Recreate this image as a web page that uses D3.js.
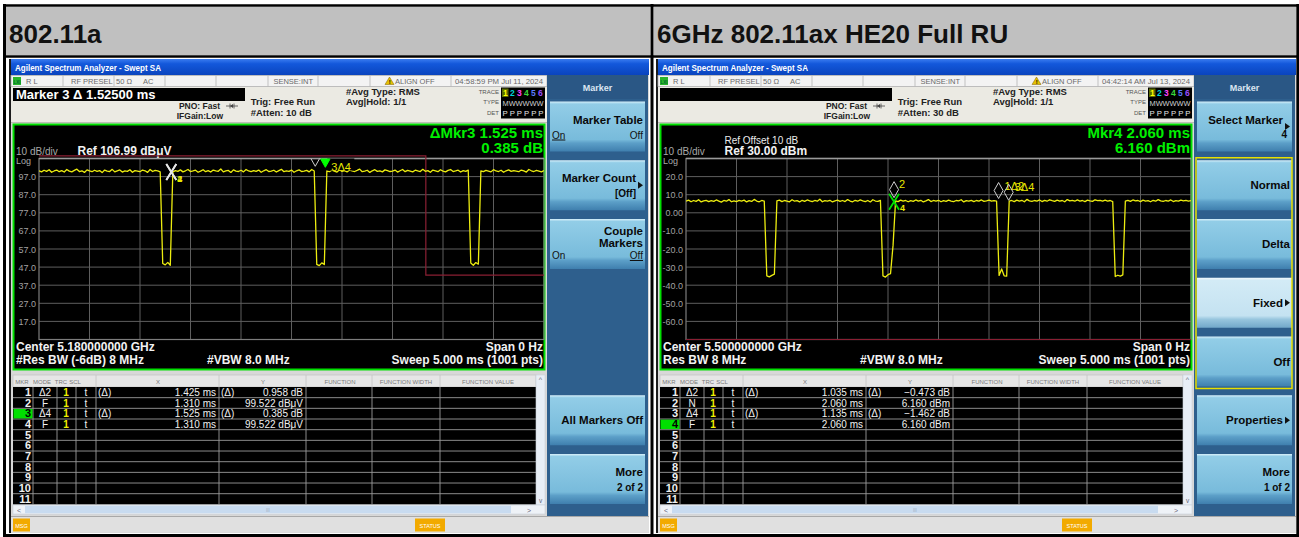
<!DOCTYPE html>
<html><head><meta charset="utf-8">
<script src="https://cdn.jsdelivr.net/npm/d3@7"></script>
<style>
html,body{margin:0;padding:0;background:#fff;}
svg{display:block;font-family:"Liberation Sans",Arial,Helvetica,sans-serif;}
</style></head><body>
<svg id="chart" width="1299" height="537"></svg>
<script>
// ---------------- data ----------------
const panelTitles = ["802.11a", "6GHz 802.11ax HE20 Full RU"];
const sweepStepMs = 0.025;          // 5 ms sweep, one value every 25 µs
const sweepMs = 5;

// zero-span trace, 802.11a (dBµV)
const traceA = [
 100.2,99.6,100.5,99.9,100.8,99.4,100.1,100.6,99.7,100.3,
 99.5,100.9,100.0,99.6,100.4,101.1,99.8,100.2,99.3,100.7,
 100.1,99.7,100.5,99.9,100.3,99.2,100.6,100.0,99.8,101.0,
 99.6,100.2,100.7,99.5,100.1,99.9,100.8,99.4,100.3,100.0,
 99.7,100.6,100.2,99.3,100.9,99.8,100.4,100.1,99.6,49.0,
 48.2,49.6,48.0,99.5,100.3,99.9,100.7,99.6,100.2,100.9,
 99.8,100.1,100.5,99.4,100.0,100.8,99.7,100.3,99.5,100.6,
 100.2,99.9,101.2,99.6,100.1,100.4,99.3,100.7,100.0,99.8,
 100.5,99.6,100.9,100.1,99.7,100.3,99.9,100.6,99.4,100.2,
 100.8,99.8,100.0,100.5,99.5,100.3,101.0,99.7,100.1,99.9,
 100.6,99.4,100.2,100.7,99.8,100.0,100.4,99.6,100.9,100.1,
 48.5,47.8,49.3,48.4,100.2,99.7,100.5,100.0,99.5,100.8,
 99.9,100.3,99.6,100.6,100.1,99.8,100.4,101.1,99.7,100.0,
 100.5,99.3,100.2,100.8,99.9,100.1,99.6,100.7,100.3,99.8,
 100.0,100.6,99.5,100.2,100.9,99.7,100.4,100.0,99.6,100.5,
 100.1,99.8,101.0,99.9,100.3,99.4,100.6,100.2,99.7,100.8,
 100.0,99.6,100.4,100.9,99.8,100.1,100.5,99.5,100.3,99.9,
 100.6,49.2,48.0,49.5,48.6,100.2,99.7,100.4,100.0,99.6,
 100.8,100.1,99.8,100.5,99.4,100.2,100.7,99.9,100.3,100.0,
 99.7,100.6,100.1,99.5,100.9,100.2,99.8,100.4,100.0,99.6,
 100.3];

// zero-span trace, 6 GHz 802.11ax HE20 (dBm)
const traceB = [
 6.4,7.0,6.1,6.8,6.3,7.2,6.0,6.6,6.9,6.2,
 6.7,6.3,7.1,6.5,5.9,6.8,6.4,7.3,6.1,6.6,
 6.2,6.9,6.5,7.0,6.0,6.7,6.3,7.4,6.5,6.1,
 6.8,6.4,-34.8,-35.4,-34.6,-33.9,6.6,7.0,6.2,6.8,
 6.5,6.1,7.2,6.4,6.7,6.0,6.9,6.3,7.1,6.6,
 6.2,6.8,6.4,7.5,6.1,6.7,6.5,6.9,6.0,6.6,
 7.0,6.3,6.8,6.2,7.3,6.5,6.1,6.9,6.4,7.1,
 6.6,6.2,6.8,6.0,7.2,6.5,6.3,6.9,-34.9,-35.5,
 -34.2,-33.6,-18.0,6.6,6.2,7.0,6.4,6.8,6.1,6.7,
 6.3,7.1,6.5,6.9,6.0,6.6,7.3,6.2,6.8,6.4,
 6.9,6.1,6.7,6.3,7.0,6.5,6.2,6.8,6.6,7.2,
 6.0,6.7,6.4,6.9,6.2,6.8,6.5,7.1,6.3,6.6,
 7.0,6.4,6.7,6.5,-34.6,-31.0,-34.8,-35.0,6.4,6.8,
 6.2,7.0,6.5,6.9,6.1,7.4,6.6,6.3,6.8,6.5,
 7.1,6.2,6.9,6.4,7.2,6.7,6.3,7.0,6.5,6.8,
 6.1,7.3,6.6,6.9,6.4,7.1,6.5,6.8,6.2,7.0,
 6.6,6.3,7.2,6.7,6.9,6.4,7.0,6.5,6.8,6.2,
 -35.2,-34.5,-35.0,-34.3,6.5,6.9,6.3,7.1,6.6,6.8,
 6.2,7.0,6.5,6.7,6.1,6.9,6.4,7.3,6.6,6.3,
 6.8,6.5,7.1,6.2,6.7,6.4,7.0,6.6,6.9,6.5,
 6.7];

const refLevelA = 106.99, refLevelB = 30.00;
const yTickLabelsA = ["97.0","87.0","77.0","67.0","57.0","47.0","37.0","27.0","17.0"];
const yTickLabelsB = ["20.0","10.0","0.00","-10.0","-20.0","-30.0","-40.0","-50.0","-60.0"];

// marker table: mode, X (ms), Y (dB / level)
const markerModesA = ["Δ2","F","Δ4","F"];
const markerXA = [1.425, 1.310, 1.525, 1.310];
const markerYA = [0.958, 99.522, 0.385, 99.522];
const activeMarkerA = 3;
const markerModesB = ["Δ2","N","Δ4","F"];
const markerXB = [1.035, 2.060, 1.135, 2.060];
const markerYB = [-0.473, 6.160, -1.462, 6.160];
const activeMarkerB = 4;

// display line (ms, level)
const displayLineA = [[0,108.4],[3.83,108.4],[3.83,42.6],[5,42.6]];
const displayLineB = [[0,-70],[5,-70]];

// softkey menus (null = empty key)
const softkeyTitlesA = [["Marker Table"],["Marker Count"],["Couple","Markers"],null,null,["All Markers Off"],["More"]];
const softkeySubsA   = [null,"[Off]",null,null,null,null,"2 of 2"];
const softkeyOnOffA  = ["On",null,"Off",null,null,null,null];
const softkeyArrowA  = [false,true,false,false,false,false,false];
const softkeyTitlesB = [["Select Marker"],["Normal"],["Delta"],["Fixed"],["Off"],["Properties"],["More"]];
const softkeySubsB   = ["4",null,null,null,null,null,"1 of 2"];
const softkeyOnOffB  = [null,null,null,null,null,null,null];
const softkeyArrowB  = [true,false,false,true,false,true,false];

// ---------------- drawing ----------------
const svg = d3.select("#chart");
const fmt3 = d3.format(".3f"), fmt5 = d3.format(".5f");
const FONT = '"Liberation Sans",Arial,sans-serif';

const defs = svg.append("defs");
function vgrad(id, stops){
  const lg = defs.append("linearGradient").attr("id",id).attr("x1",0).attr("y1",0).attr("x2",0).attr("y2",1);
  stops.forEach(s=>lg.append("stop").attr("offset",s[0]).attr("stop-color",s[1]));
}
vgrad("titleGrad",[[0,"#3a7cf0"],[0.3,"#1358db"],[1,"#0a44be"]]);
vgrad("keyGrad",[[0,"#d8f0fa"],[0.05,"#92cde7"],[0.76,"#78bbdb"],[0.83,"#5c9fc8"],[1,"#3f7fae"]]);
vgrad("keySelGrad",[[0,"#f2fafd"],[0.05,"#d3ebf6"],[0.76,"#c4e2f1"],[0.83,"#98c6de"],[1,"#72a8ca"]]);

function txt(g, x, y, s, o={}){
  const t = g.append("text").attr("x",x).attr("y",y).text(s)
    .attr("font-family",o.family||FONT)
    .attr("font-size",o.size||10)
    .attr("font-weight",o.weight||"normal")
    .attr("fill",o.fill||"#000")
    .attr("text-anchor",o.anchor||"start");
  if(o.len) t.attr("textLength",o.len).attr("lengthAdjust","spacingAndGlyphs");
  if(o.deco) t.attr("text-decoration",o.deco);
  return t;
}
function rect(g,x,y,w,h,fill,stroke,sw){
  const r = g.append("rect").attr("x",x).attr("y",y).attr("width",w).attr("height",h).attr("fill",fill||"none");
  if(stroke) r.attr("stroke",stroke).attr("stroke-width",sw||1);
  return r;
}
function hline(g,x1,x2,y,c,w){ g.append("line").attr("x1",x1).attr("x2",x2).attr("y1",y).attr("y2",y).attr("stroke",c).attr("stroke-width",w||1); }
function vline(g,x,y1,y2,c,w){ g.append("line").attr("x1",x).attr("x2",x).attr("y1",y1).attr("y2",y2).attr("stroke",c).attr("stroke-width",w||1); }

// page frame + title cells
rect(svg,0,0,1299,537,"#fff");
rect(svg,5,7,645,48,"#c0c0c0");
rect(svg,654,7,642,48,"#c0c0c0");
txt(svg,9,43,panelTitles[0],{size:26,weight:"bold",fill:"#111"});
txt(svg,657,43,panelTitles[1],{size:26,weight:"bold",fill:"#111"});

function drawScreen(dx, P, id){
  const g = svg.append("g").attr("transform",`translate(${dx},0)`);
  // window body
  rect(g,9,59,640,474,"#d8d8d8");
  rect(g,9,59,2,474,"#1c1c1c");
  rect(g,11,59,638,16,"url(#titleGrad)");
  txt(g,15,70.5,"Agilent Spectrum Analyzer - Swept SA",{size:8.5,weight:"bold",fill:"#fff",len:146});

  // status row
  rect(g,11,75.5,536,11,"#f3f3f3","#b4b4b4",0.8);
  [63,114,165,216,268,318,370,451].forEach(x=>vline(g,x,75.5,86.5,"#b4b4b4",0.8));
  rect(g,13,77,8,8,"#2ab52a");
  txt(g,17,83.5,"LXI",{size:4.5,weight:"bold",fill:"#063",anchor:"middle"});
  const st = {size:7.5,fill:"#6a6a6a"};
  txt(g,26,84,"R L",st);
  txt(g,71,84,"RF PRESEL",st);
  txt(g,116,84,"50 Ω",st);
  txt(g,143,84,"AC",st);
  txt(g,313,84,"SENSE:INT",Object.assign({anchor:"end"},st));
  g.append("path").attr("d","M385,84.5 L389.5,77 L394,84.5 Z").attr("fill","#e6c000").attr("stroke","#806000").attr("stroke-width",0.5);
  txt(g,389.7,83.8,"!",{size:6,weight:"bold",fill:"#000",anchor:"middle"});
  txt(g,395,84,"ALIGN OFF",st);
  txt(g,455,84,P.date,Object.assign({len:88},st));

  // settings area
  rect(g,11,87,536,36,"#ebeae3");
  hline(g,11,547,122.5,"#bdbdb6",1);
  rect(g,13,88,232,13,"#000");
  const act = P.active-1;
  const activeIsDelta = P.modes[act].startsWith("Δ");
  if(activeIsDelta) txt(g,16,98.7,`Marker ${P.active} Δ ${fmt5(P.xs[act])} ms`,{size:13,weight:"bold",fill:"#fff"});
  const sb = {size:8.5,weight:"bold",fill:"#222"};
  txt(g,220,108.7,"PNO: Fast",Object.assign({anchor:"end"},sb));
  g.append("path").attr("d","M226,106 L238,106 M230,103.5 L230,108.5 M234,103.5 L234,108.5").attr("stroke","#444").attr("stroke-width",0.8);
  g.append("path").attr("d","M230,106 L233,104 L233,108 Z").attr("fill","#444");
  txt(g,223,118.5,"IFGain:Low",Object.assign({anchor:"end"},sb));
  const sb2 = {size:9.5,weight:"bold",fill:"#222"};
  txt(g,250.7,105.3,"Trig: Free Run",sb2);
  txt(g,250.7,116.3,P.atten,sb2);
  txt(g,346,94.7,"#Avg Type: RMS",sb2);
  txt(g,346,104.7,"Avg|Hold: 1/1",sb2);
  const sm = {size:6,fill:"#555",anchor:"end"};
  txt(g,499,94,"TRACE",sm); txt(g,499,104,"TYPE",sm); txt(g,499,114.5,"DET",sm);
  rect(g,501,87.5,44,31,"#000");
  rect(g,502,88.5,6.5,8.5,"#5a6b00");
  const trColors = ["#ffff00","#00d8d8","#ff44ff","#3ad83a","#5a7cff","#9b4dff"];
  trColors.forEach((c,i)=>txt(g,505.3+i*7,96,String(i+1),{size:8.5,weight:"bold",fill:c,anchor:"middle"}));
  txt(g,502.5,105.5,"MWWWWW",{size:7,fill:"#cfcfcf",len:41});
  txt(g,502.5,115.5,"P P P P P P",{size:7.5,fill:"#e6e6e6",len:41});

  // graph panel
  rect(g,13.5,124.5,531,245,"#000","#00e000",2);
  const X0 = 39, X1 = 544, YT = 158.5, YB = 339.5;
  const x = d3.scaleLinear().domain([0,sweepMs]).range([X0,X1]);
  const y = d3.scaleLinear().domain([P.ref-100,P.ref]).range([YB,YT]);
  const clipId = "clip"+id;
  defs.append("clipPath").attr("id",clipId).append("rect").attr("x",X0+dx).attr("y",YT).attr("width",X1-X0).attr("height",YB-YT);
  // the clip rect is in page coordinates, so the clipped group sits at page level
  const cg = svg.append("g").attr("clip-path",`url(#${clipId})`).append("g").attr("transform",`translate(${dx},0)`);

  // graticule
  const grid = g.append("g");
  d3.range(1,10).forEach(k=>hline(grid,X0,X1,y(P.ref-10*k),"#5e5e5e",1));
  d3.range(1,10).forEach(k=>vline(grid,x(k*sweepMs/10),YT,YB,"#5e5e5e",1));
  rect(grid,X0,YT,X1-X0,YB-YT,"none","#7c7c7c",1.2);
  hline(grid,X0,X1,YT,"#9a9a9a",1.6);
  P.yTicks.forEach((lab,k)=>txt(g,36,y(P.ref-10*(k+1))+3.5,lab,{size:9,fill:"#a2a2a2",anchor:"end"}));
  txt(g,16,163.5,"Log",{size:9,fill:"#a8a8a8"});
  txt(g,16,155,"10 dB/div",{size:10,fill:"#a8a8a8"});
  txt(g,77.5,155,P.refText,{size:12,weight:"bold",fill:"#f2f2f2"});
  if(P.refOffset) txt(g,77.5,143.5,P.refOffset,{size:10,fill:"#eaeaea"});

  // marker headline
  const hl = {size:15,weight:"bold",fill:"#00f000",anchor:"end"};
  if(activeIsDelta){
    txt(g,543,138,`ΔMkr${P.active} ${fmt3(P.xs[act])} ms`,hl);
    txt(g,543,152.7,`${fmt3(P.ys[act])} dB`,hl);
  } else {
    txt(g,543,138,`Mkr${P.active} ${fmt3(P.xs[act])} ms`,hl);
    txt(g,543,152.7,`${fmt3(P.ys[act])} ${P.unit}`,hl);
  }

  // display line
  g.append("path").attr("d",d3.line().x(d=>x(d[0])).y(d=>Math.min(Math.max(y(d[1]),YT-3),YB))(P.dline))
    .attr("fill","none").attr("stroke","#8a1f33").attr("stroke-width",1.2);

  // trace
  cg.append("path").attr("d",d3.line().x((d,i)=>x(i*sweepStepMs)).y(d=>y(d))(P.trace))
    .attr("fill","none").attr("stroke","#eded10").attr("stroke-width",1.3).attr("stroke-linejoin","round");

  // markers (positions from table values)
  function absPos(i){
    const m = P.modes[i];
    if(m.startsWith("Δ")){ const b = absPos(+m.slice(1)-1); return {t:b.t+P.xs[i], v:b.v+P.ys[i]}; }
    return {t:P.xs[i], v:P.ys[i]};
  }
  const mk = P.modes.map((m,i)=>Object.assign({n:i+1, mode:m}, absPos(i)));
  const am = mk[act];
  const amx = x(am.t), amy = y(am.v);
  const labY = (d,py)=> d.n===P.active ? Math.max(py-13, YT+12) : py-13;
  if(am.mode.startsWith("Δ")){
    rect(cg,amx+2,Math.max(amy-25,YT-4),27,16,"#000");
  }
  mk.forEach(d=>{
    const px = x(d.t), py = y(d.v);
    const col = d.n===P.active ? "#00ff00" : "#d0d0d0";
    if(d.mode==="F"){
      cg.append("path").attr("d",`M${px-5},${py-8} L${px+5},${py+8} M${px+5},${py-8} L${px-5},${py+8}`)
        .attr("stroke",d.n===P.active ? "#00e000" : "#e6e6e6").attr("stroke-width",1.8);
      txt(cg,px+6,py+9.5,String(d.n),{size:9,weight:"bold",fill:"#e8e800"});
    } else {
      const cy = py-12;
      cg.append("path").attr("d",`M${px},${cy-8} L${px+4.5},${cy} L${px},${cy+8} L${px-4.5},${cy} Z`)
        .attr("fill",d.n===P.active ? "#00ff00" : "none").attr("stroke",col).attr("stroke-width",1);
      if(d.mode.startsWith("Δ")) txt(cg,px+6,labY(d,py),`${d.n}${d.mode}`,{size:11,fill:"#e8e800"});
      else txt(cg,px+5,py-14,String(d.n),{size:11,fill:"#e8e800"});
    }
  });

  // bottom annotations
  const bt = {size:12,weight:"bold",fill:"#f2f2f2"};
  txt(g,16,351,P.center,bt);
  txt(g,543,351,"Span 0 Hz",Object.assign({anchor:"end"},bt));
  txt(g,16,364.3,P.rbw,bt);
  txt(g,P.vbwX,364.3,"#VBW 8.0 MHz",bt);
  txt(g,543,364.3,`Sweep  ${fmt3(sweepMs)} ms (1001 pts)`,Object.assign({anchor:"end"},bt));

  // marker table
  const cols = [13,33,57,76,96,219,306,372,440,536];
  rect(g,13,375,523,12,"#e6e6e6","#bdbdbd",0.6);
  [96,219,306,372,440].forEach(c=>vline(g,c,375,387,"#c4c4c4",0.8));
  const th = {size:6,fill:"#7a7a7a",anchor:"middle"};
  txt(g,22,383.5,"MKR",th); txt(g,42,383.5,"MODE",th); txt(g,61,383.5,"TRC",th); txt(g,75,383.5,"SCL",th);
  txt(g,158,383.5,"X",th); txt(g,263,383.5,"Y",th); txt(g,340,383.5,"FUNCTION",th);
  txt(g,406,383.5,"FUNCTION WIDTH",th); txt(g,488,383.5,"FUNCTION VALUE",th);
  const rowH = 10.67, r0 = 387;
  rect(g,13,r0,523,rowH*11,"#000");
  d3.range(1,11).forEach(k=>hline(g,13,536,r0+rowH*k,"#9a9a9a",0.9));
  cols.slice(1,-1).forEach(c=>vline(g,c,r0,r0+rowH*11,"#9a9a9a",0.9));
  rect(g,13.5,r0+rowH*(P.active-1)+0.6,19,rowH-1.2,"#00e000");
  d3.range(11).forEach(k=>{
    const by = r0+rowH*(k+1)-1.6;
    txt(g,31,by,String(k+1),{size:11,weight:"bold",fill:(k===P.active-1)?"#000":"#f0f0f0",anchor:"end"});
    if(k<P.modes.length){
      const m = P.modes[k], isD = m.startsWith("Δ");
      const tb = {size:10,fill:"#f0f0f0"};
      txt(g,45,by,m,Object.assign({anchor:"middle"},tb));
      txt(g,66,by,"1",{size:10,weight:"bold",fill:"#f0f000",anchor:"middle"});
      txt(g,86,by,"t",Object.assign({anchor:"middle"},tb));
      if(isD){ txt(g,98,by,"(Δ)",tb); txt(g,221,by,"(Δ)",tb); }
      txt(g,216,by,`${fmt3(P.xs[k])} ms`,Object.assign({anchor:"end"},tb));
      txt(g,303,by,`${fmt3(P.ys[k])} ${isD?"dB":P.unit}`,Object.assign({anchor:"end"},tb));
    }
  });
  // scroll bars
  rect(g,536,375,9,130,"#e8eef6","#c8d0da",0.6);
  txt(g,540.5,382,"^",{size:7,fill:"#667",anchor:"middle"});
  txt(g,540.5,503,"v",{size:6.5,fill:"#667",anchor:"middle"});
  rect(g,13,505,532,9,"#eef2f7","#c8d0da",0.6);
  rect(g,25,505.8,486,7.4,"#c8dbf0");
  txt(g,17,512.5,"<",{size:7,fill:"#667"});
  txt(g,527,512.5,">",{size:7,fill:"#667"});
  txt(g,268,512,"III",{size:4.5,fill:"#9ab",anchor:"middle"});

  // status bar
  rect(g,11,516.5,638,16,"#e0e0e0");
  hline(g,11,649,516.5,"#a8a8a8",1);
  rect(g,13,518.5,17,13,"#f2aa00");
  txt(g,21.5,527.5,"MSG",{size:5.5,fill:"#fff",anchor:"middle"});
  rect(g,415,518.5,30,13,"#f2aa00");
  txt(g,430,527.5,"STATUS",{size:5.5,fill:"#fff",anchor:"middle"});

  // softkey panel
  rect(g,547,75,101,441,"#2e5f8d");
  rect(g,547,75,101,24,"#2a5785");
  txt(g,597.5,91,"Marker",{size:9,weight:"bold",fill:"#dce6f2",anchor:"middle"});
  const slotTop = k=>101.5+58.75*k;
  P.keys.titles.forEach((t,k)=>{
    if(!t) return;
    const top = slotTop(k);
    const sel = P.keys.selected===k;
    rect(g,550,top,95,50,sel?"url(#keySelGrad)":"url(#keyGrad)");
    const kb = {size:11.5,weight:"bold",fill:"#0a0a0a",anchor:"end"};
    const arrow = P.keys.arrows[k], sub = P.keys.subs[k], oo = P.keys.onoff[k];
    const right = arrow ? 636 : 643;
    let arrowY;
    if(oo){
      if(t.length===1){ txt(g,643,top+22,t[0],kb); }
      else { txt(g,643,top+16,t[0],kb); txt(g,643,top+28,t[1],kb); }
      const ob = top + (t.length===1 ? 37 : 40);
      txt(g,552,ob,"On",{size:10,fill:"#111",deco:oo==="On"?"underline":null});
      txt(g,643,ob,"Off",{size:10,fill:"#111",anchor:"end",deco:oo==="Off"?"underline":null});
    } else if(sub){
      txt(g,right,top+22,t[0],kb);
      txt(g,arrow?(sub.length>2?636:640):643,top+36.5,sub,{size:10,weight:"bold",fill:"#0a0a0a",anchor:"end"});
      arrowY = top+25;
    } else {
      t.forEach((line,j)=>txt(g,right,top+29+(j-(t.length-1)/2)*12,line,kb));
      arrowY = top+25;
    }
    if(arrow) g.append("path").attr("d",`M638,${arrowY-3.5} L643,${arrowY} L638,${arrowY+3.5} Z`).attr("fill","#111");
  });
  if(P.keys.group){
    const [a,b] = P.keys.group;
    rect(g,549,slotTop(a)-2.5,96,slotTop(b)+50-slotTop(a)+4.5,"none","#e8e000",1.5);
  }
}

drawScreen(0,{
  date:"04:58:59 PM Jul 11, 2024", atten:"#Atten: 10 dB",
  refText:"Ref 106.99 dBμV", refOffset:null, unit:"dBμV",
  ref:refLevelA, yTicks:yTickLabelsA, trace:traceA,
  modes:markerModesA, xs:markerXA, ys:markerYA, active:activeMarkerA,
  dline:displayLineA,
  center:"Center 5.180000000 GHz", rbw:"#Res BW (-6dB) 8 MHz", vbwX:207,
  keys:{titles:softkeyTitlesA, subs:softkeySubsA, onoff:softkeyOnOffA, arrows:softkeyArrowA, selected:-1, group:null}
},"A");

drawScreen(647,{
  date:"04:42:14 AM Jul 13, 2024", atten:"#Atten: 30 dB",
  refText:"Ref 30.00 dBm", refOffset:"Ref Offset 10 dB", unit:"dBm",
  ref:refLevelB, yTicks:yTickLabelsB, trace:traceB,
  modes:markerModesB, xs:markerXB, ys:markerYB, active:activeMarkerB,
  dline:displayLineB,
  center:"Center 5.500000000 GHz", rbw:"Res BW 8 MHz", vbwX:213,
  keys:{titles:softkeyTitlesB, subs:softkeySubsB, onoff:softkeyOnOffB, arrows:softkeyArrowB, selected:3, group:[1,4]}
},"B");

// cell borders
const bc = "#000";
hline(svg,3,1299,5.5,bc,2.5);
hline(svg,3,1299,56.5,bc,2.5);
hline(svg,3,1299,535.5,bc,3);
vline(svg,4.5,4,537,bc,3);
vline(svg,652,4,537,bc,3);
vline(svg,1297.8,4,537,bc,3);
</script>
</body></html>
